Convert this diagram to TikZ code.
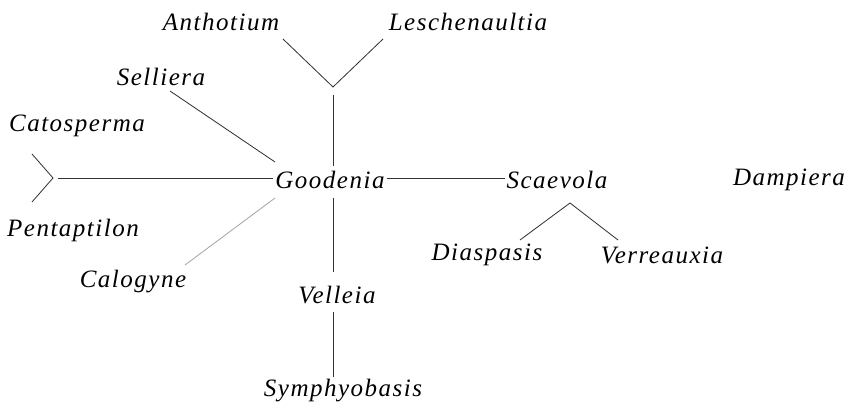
\documentclass[tikz,border=0pt]{standalone}
\usepackage{fontspec}
\setmainfont{Liberation Serif}[LetterSpace=6]
\begin{document}
\begin{tikzpicture}[x=0.6pt, y=-0.6pt, genus/.style={font=\fontsize{15}{18}\selectfont\itshape, inner sep=1pt}, branch/.style={line width=0.5pt, black!80}]
   \useasboundingbox (0,0) rectangle (847,406);
   % genera
   \node [genus] (anth) at (221,22) {Anthotium};
   \node [genus] (lesch) at (468,22) {Leschenaultia};
   \node [genus] (sell) at (161,77) {Selliera};
   \node [genus] (cato) at (77,126) {Catosperma};
   \node [genus] (good) at (330,180) {Goodenia};
   \node [genus] (scae) at (557,180) {Scaevola};
   \node [genus] (damp) at (789,180) {Dampiera};
   \node [genus] (pent) at (73,230) {Pentaptilon};
   \node [genus] (calo) at (133,282) {Calogyne};
   \node [genus] (diasp) at (487,255) {Diaspasis};
   \node [genus] (verr) at (662,255) {Verreauxia};
   \node [genus] (vell) at (337,295) {Velleia};
   \node [genus] (symph) at (343,391) {Symphyobasis};
   % forks
   \coordinate (topfork) at (333,87);
   \coordinate (leftfork) at (53,178);
   \coordinate (scaefork) at (570,203);
   \draw [branch] (283,39) -- (topfork) -- (383,39);
   \draw [branch] (333,95) -- (333,166);
   \draw [branch] (32,154) -- (leftfork) -- (32,202);
   \draw [branch] (58,178) -- (good.west |- leftfork);
   \draw [branch] (170,91) -- (275,162);
   \draw [branch, black!35] (275,198) -- (185,265);
   \draw [branch] (good.east |- leftfork) -- (scae.west |- leftfork);
   \draw [branch] (520,240) -- (scaefork) -- (618,240);
   \draw [branch] (333,198) -- (333,272);
   \draw [branch] (333,312) -- (333,377);
\end{tikzpicture}
\end{document}
